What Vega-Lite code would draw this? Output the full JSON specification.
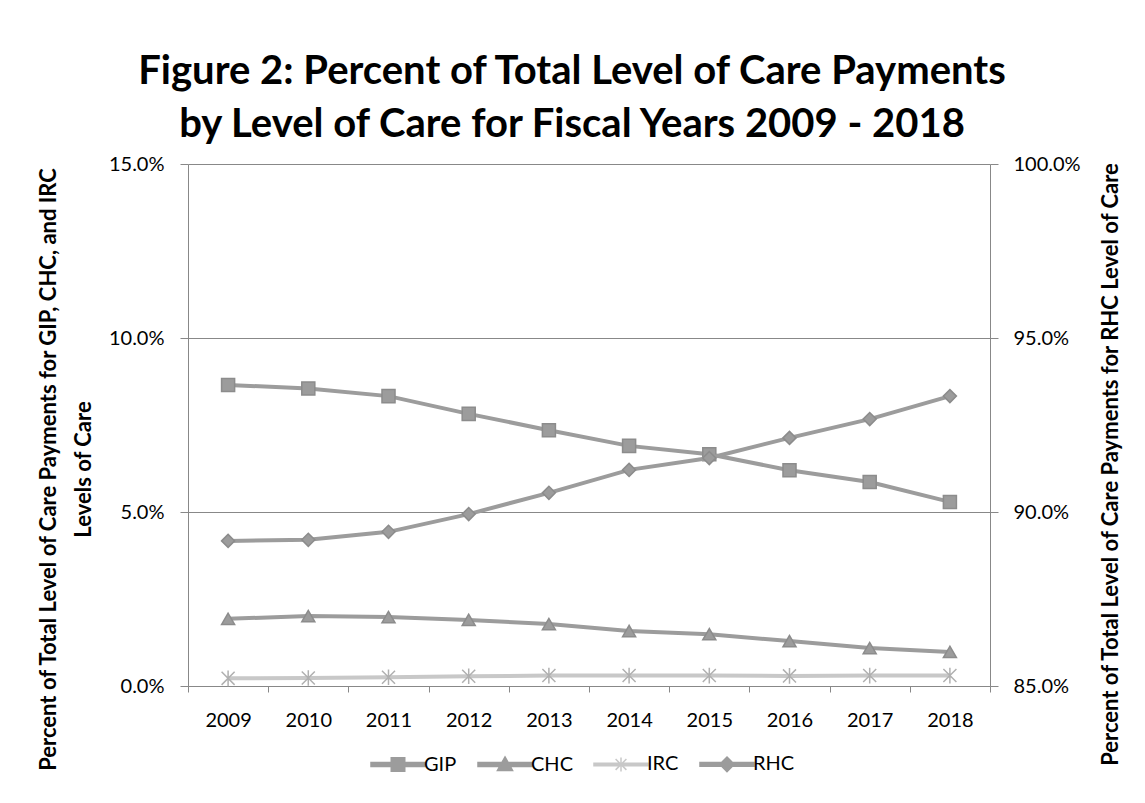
{
  "$schema": "https://vega.github.io/schema/vega-lite/v6.json",
  "autosize": "none",
  "width": 802,
  "height": 522,
  "padding": {"left": 188, "top": 164, "right": 155, "bottom": 117},
  "background": "white",
  "config": {"font": "Lato", "view": {"stroke": null}},
  "title": {
    "text": ["Figure 2: Percent of Total Level of Care Payments", "by Level of Care for Fiscal Years 2009 - 2018"],
    "fontSize": 40,
    "fontWeight": "bold",
    "font": "Lato",
    "color": "#000000",
    "anchor": "middle",
    "lineHeight": 53,
    "offset": 9,
    "dx": -17
  },
  "data": {
    "values": [
      {"year": "2009", "series": "GIP", "value": 0.0865},
      {"year": "2010", "series": "GIP", "value": 0.0855},
      {"year": "2011", "series": "GIP", "value": 0.0833},
      {"year": "2012", "series": "GIP", "value": 0.0782},
      {"year": "2013", "series": "GIP", "value": 0.0735},
      {"year": "2014", "series": "GIP", "value": 0.0690},
      {"year": "2015", "series": "GIP", "value": 0.0666},
      {"year": "2016", "series": "GIP", "value": 0.0620},
      {"year": "2017", "series": "GIP", "value": 0.0586},
      {"year": "2018", "series": "GIP", "value": 0.0529},
      {"year": "2009", "series": "CHC", "value": 0.0193},
      {"year": "2010", "series": "CHC", "value": 0.0201},
      {"year": "2011", "series": "CHC", "value": 0.0198},
      {"year": "2012", "series": "CHC", "value": 0.0190},
      {"year": "2013", "series": "CHC", "value": 0.0178},
      {"year": "2014", "series": "CHC", "value": 0.0158},
      {"year": "2015", "series": "CHC", "value": 0.0149},
      {"year": "2016", "series": "CHC", "value": 0.0129},
      {"year": "2017", "series": "CHC", "value": 0.0109},
      {"year": "2018", "series": "CHC", "value": 0.0098},
      {"year": "2009", "series": "IRC", "value": 0.0022},
      {"year": "2010", "series": "IRC", "value": 0.0023},
      {"year": "2011", "series": "IRC", "value": 0.0025},
      {"year": "2012", "series": "IRC", "value": 0.0028},
      {"year": "2013", "series": "IRC", "value": 0.0030},
      {"year": "2014", "series": "IRC", "value": 0.0030},
      {"year": "2015", "series": "IRC", "value": 0.0030},
      {"year": "2016", "series": "IRC", "value": 0.0029},
      {"year": "2017", "series": "IRC", "value": 0.0030},
      {"year": "2018", "series": "IRC", "value": 0.0030},
      {"year": "2009", "series": "RHC", "value": 0.8917},
      {"year": "2010", "series": "RHC", "value": 0.8920},
      {"year": "2011", "series": "RHC", "value": 0.8943},
      {"year": "2012", "series": "RHC", "value": 0.8994},
      {"year": "2013", "series": "RHC", "value": 0.9055},
      {"year": "2014", "series": "RHC", "value": 0.9121},
      {"year": "2015", "series": "RHC", "value": 0.9155},
      {"year": "2016", "series": "RHC", "value": 0.9213},
      {"year": "2017", "series": "RHC", "value": 0.9267},
      {"year": "2018", "series": "RHC", "value": 0.9333}
    ]
  },
  "encoding": {
    "x": {
      "field": "year",
      "type": "ordinal",
      "scale": {"paddingInner": 0, "paddingOuter": 0},
      "axis": {
        "title": null,
        "labelAngle": 0,
        "labelFontSize": 20,
        "labelColor": "#000000",
        "labelPadding": 18,
        "tickBand": "extent",
        "tickSize": 6,
        "tickColor": "#888888",
        "domainColor": "#888888",
        "grid": false
      }
    },
    "color": {
      "field": "series",
      "type": "nominal",
      "scale": {"domain": ["GIP", "CHC", "IRC", "RHC"], "range": ["#9c9c9c", "#9c9c9c", "#c8c8c8", "#9c9c9c"]},
      "legend": {
        "orient": "none",
        "legendX": 182,
        "legendY": 572,
        "direction": "horizontal",
        "title": null,
        "labelFontSize": 20,
        "labelColor": "#000000",
        "labelOffset": -2,
        "columnPadding": 18,
        "symbolSize": 2916,
        "symbolType": "square",
        "encode": {
          "symbols": {
            "update": {
              "shape": {"signal": "datum.value === 'GIP' ? 'M-1,-0.07H1V0.07H-1Z M-0.25,-0.25H0.25V0.25H-0.25Z' : datum.value === 'CHC' ? 'M-1,-0.07H1V0.07H-1Z M0,-0.28L0.28,0.22H-0.28Z' : datum.value === 'IRC' ? 'M-1,-0.05H1V0.05H-1Z M-0.2,-0.2L0.2,0.2M-0.2,0.2L0.2,-0.2M0,-0.26V0.26' : 'M-1,-0.07H1V0.07H-1Z M0,-0.27L0.27,0L0,0.27L-0.27,0Z'"},
              "fill": {"signal": "datum.value === 'IRC' ? '#c8c8c8' : '#9c9c9c'"},
              "stroke": {"signal": "datum.value === 'IRC' ? '#b8b8b8' : '#8c8c8c'"},
              "strokeWidth": {"value": 1.5},
              "opacity": {"value": 1},
              "fillOpacity": {"value": 1},
              "strokeOpacity": {"value": 1}
            }
          }
        }
      }
    }
  },
  "layer": [
    {
      "transform": [{"filter": "datum.series !== 'RHC'"}],
      "encoding": {
        "y": {
          "field": "value",
          "type": "quantitative",
          "scale": {"domain": [0, 0.15], "nice": false, "zero": false},
          "axis": {
            "orient": "left",
            "values": [0, 0.05, 0.1, 0.15],
            "format": ".1%",
            "labelFontSize": 20,
            "labelColor": "#000000",
            "labelPadding": 16,
            "tickSize": 8,
            "tickColor": "#888888",
            "domainColor": "#888888",
            "grid": true,
            "gridColor": "#888888",
            "gridWidth": 1,
            "title": ["Percent of Total Level of Care Payments for GIP, CHC, and IRC", "Levels of Care"],
            "titleFontSize": 22,
            "titleFontWeight": "bold",
            "titleColor": "#000000",
            "titleLineHeight": 35,
            "titleAngle": 270,
            "titleAlign": "center",
            "titleBaseline": "middle",
            "titleX": -140,
            "titleY": 305
          }
        }
      },
      "layer": [
        {"mark": {"type": "line", "strokeWidth": 4}},
        {
          "mark": {"type": "point", "filled": true, "opacity": 1, "size": 170, "strokeWidth": 1.5},
          "encoding": {
            "shape": {
              "field": "series",
              "type": "nominal",
              "scale": {"domain": ["CHC", "GIP", "IRC", "RHC"], "range": ["triangle-up", "square", "M-1,-1L1,1M-1,1L1,-1M0,-1.2V1.2", "diamond"]},
              "legend": null
            },
            "stroke": {
              "field": "series",
              "type": "nominal",
              "scale": {"domain": ["CHC", "GIP", "IRC", "RHC"], "range": ["#8c8c8c", "#8c8c8c", "#b0b0b0", "#8c8c8c"]},
              "legend": null
            }
          }
        }
      ]
    },
    {
      "transform": [{"filter": "datum.series === 'RHC'"}],
      "encoding": {
        "y": {
          "field": "value",
          "type": "quantitative",
          "scale": {"domain": [0.85, 1.0], "nice": false, "zero": false},
          "axis": {
            "orient": "right",
            "values": [0.85, 0.9, 0.95, 1.0],
            "format": ".1%",
            "labelFontSize": 20,
            "labelColor": "#000000",
            "labelPadding": 15,
            "tickSize": 8,
            "tickColor": "#888888",
            "domainColor": "#888888",
            "grid": false,
            "title": "Percent of Total Level of Care Payments for RHC Level of Care",
            "titleFontSize": 22,
            "titleFontWeight": "bold",
            "titleColor": "#000000",
            "titleAngle": 270,
            "titleAlign": "center",
            "titleBaseline": "middle",
            "titleX": 120,
            "titleY": 300
          }
        }
      },
      "layer": [
        {"mark": {"type": "line", "strokeWidth": 4}},
        {
          "mark": {"type": "point", "filled": true, "opacity": 1, "size": 170, "strokeWidth": 1.5},
          "encoding": {
            "shape": {
              "field": "series",
              "type": "nominal",
              "scale": {"domain": ["CHC", "GIP", "IRC", "RHC"], "range": ["triangle-up", "square", "M-1,-1L1,1M-1,1L1,-1M0,-1.2V1.2", "diamond"]},
              "legend": null
            },
            "stroke": {
              "field": "series",
              "type": "nominal",
              "scale": {"domain": ["CHC", "GIP", "IRC", "RHC"], "range": ["#8c8c8c", "#8c8c8c", "#b0b0b0", "#8c8c8c"]},
              "legend": null
            }
          }
        }
      ]
    }
  ],
  "resolve": {"scale": {"y": "independent"}}
}
